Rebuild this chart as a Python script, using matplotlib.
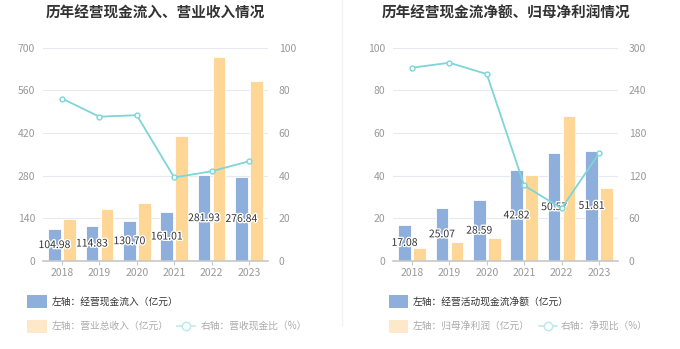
import numpy as np
import matplotlib.pyplot as plt
import matplotlib.patheffects as pe
from matplotlib.lines import Line2D

plt.rcParams['font.family'] = ['Noto Sans CJK SC', 'DejaVu Sans']

years = ['2018', '2019', '2020', '2021', '2022', '2023']

# left chart
cash_in = [104.98, 114.83, 130.70, 161.01, 281.93, 276.84]
revenue = [137.8, 169.6, 191.0, 411.0, 670.0, 592.0]
cash_ratio = [76.2, 67.7, 68.4, 39.2, 42.1, 46.8]

# right chart
net_cf = [17.08, 25.07, 28.59, 42.82, 50.57, 51.81]
net_profit = [6.28, 8.98, 10.87, 40.28, 68.2, 34.18]
net_ratio = [272.0, 279.0, 263.0, 106.3, 74.1, 151.6]

blue = '#8eaedb'
orange = '#fed796'
teal = '#7dd5da'
grid_c = '#e6e9f2'
tick_c = '#999999'

fig = plt.figure(figsize=(6.8, 3.49), dpi=100)


def draw_panel(left, title, bars1, bars2, line, ymax1, ymax2):
    ax = fig.add_axes([left, 0.252, 0.330, 0.611])
    x = np.arange(len(years))
    w = 0.34
    ax.bar(x - 0.2, bars1, w, color=blue, edgecolor='white', linewidth=0.6, zorder=2)
    ax.bar(x + 0.2, bars2, w, color=orange, edgecolor='white', linewidth=0.6, zorder=2)
    ax.set_xlim(-0.5, len(years) - 0.5)
    ax.set_ylim(0, ymax1)
    ax.set_yticks(np.linspace(0, ymax1, 6))
    ax.set_yticklabels([f'{v:g}' for v in np.linspace(0, ymax1, 6)])
    ax.set_xticks(x)
    ax.set_xticklabels(years)
    ax.grid(axis='y', color=grid_c, linewidth=0.8, zorder=0)
    for s in ['top', 'right', 'left']:
        ax.spines[s].set_visible(False)
    ax.spines['bottom'].set_color('#c8c8c8')
    ax.spines['bottom'].set_linewidth(1.2)
    ax.tick_params(axis='y', length=0, colors=tick_c, labelsize=7.5, pad=6)
    ax.tick_params(axis='x', length=3, color='#c8c8c8', colors=tick_c, labelsize=7.5, pad=2)
    for xi, v in zip(x, bars1):
        ax.text(xi - 0.2, v / 2, f'{v:.2f}', ha='center', va='center', fontsize=7.5,
                color='#333333', zorder=5,
                path_effects=[pe.withStroke(linewidth=2, foreground='white')])
    ax2 = ax.twinx()
    ax2.plot(x, line, color=teal, linewidth=1.3, marker='o', markersize=3.5,
             markerfacecolor='white', markeredgecolor=teal, markeredgewidth=1, zorder=4)
    ax2.set_ylim(0, ymax2)
    ax2.set_yticks(np.linspace(0, ymax2, 6))
    ax2.set_yticklabels([f'{v:g}' for v in np.linspace(0, ymax2, 6)])
    for s in ['top', 'right', 'left', 'bottom']:
        ax2.spines[s].set_visible(False)
    ax2.tick_params(axis='y', length=0, colors=tick_c, labelsize=7.5, pad=8)
    fig.text(left + 0.165, 0.965, title, ha='center', va='center', fontsize=10.5,
             fontweight='bold', color='#333333')
    return ax


draw_panel(0.0637, '历年经营现金流入、营业收入情况', cash_in, revenue, cash_ratio, 700, 100)
draw_panel(0.5784, '历年经营现金流净额、归母净利润情况', net_cf, net_profit, net_ratio, 100, 300)

# separator
fig.add_artist(Line2D([341.7 / 680, 341.7 / 680], [1, 1 - 325 / 349], color='#f2f2f2', linewidth=1))


def legend_patch(x0, y, color):
    fig.add_artist(plt.Rectangle((x0 / 680, 1 - (y + 6.5) / 349), 19.5 / 680, 13 / 349,
                                 color=color, transform=fig.transFigure, linewidth=0))


def legend_line(x0, y):
    yy = 1 - y / 349
    fig.add_artist(Line2D([x0 / 680, (x0 + 18) / 680], [yy, yy], color='#bfe9ec', linewidth=1.2))
    fig.add_artist(Line2D([(x0 + 9) / 680], [yy], marker='o', markersize=6, color='#bfe9ec',
                          markerfacecolor='white', markeredgewidth=1.1))


def legend_text(x0, y, s, color):
    fig.text(x0 / 680, 1 - y / 349, s, ha='left', va='center', fontsize=7, color=color)


# left legend
legend_patch(27, 301.5, blue)
legend_text(51.5, 301.5, '左轴：经营现金流入（亿元）', '#333333')
legend_patch(27, 326, '#fde9c9')
legend_text(51.5, 326, '左轴：营业总收入（亿元）', '#aaaaaa')
legend_line(177, 326)
legend_text(201, 326, '右轴：营收现金比（%）', '#aaaaaa')

# right legend
legend_patch(388.6, 301.5, blue)
legend_text(413, 301.5, '左轴：经营活动现金流净额（亿元）', '#333333')
legend_patch(388.6, 326, '#fde9c9')
legend_text(413, 326, '左轴：归母净利润（亿元）', '#aaaaaa')
legend_line(539, 326)
legend_text(561, 326, '右轴：净现比（%）', '#aaaaaa')

fig.savefig('out.png', dpi=100)
